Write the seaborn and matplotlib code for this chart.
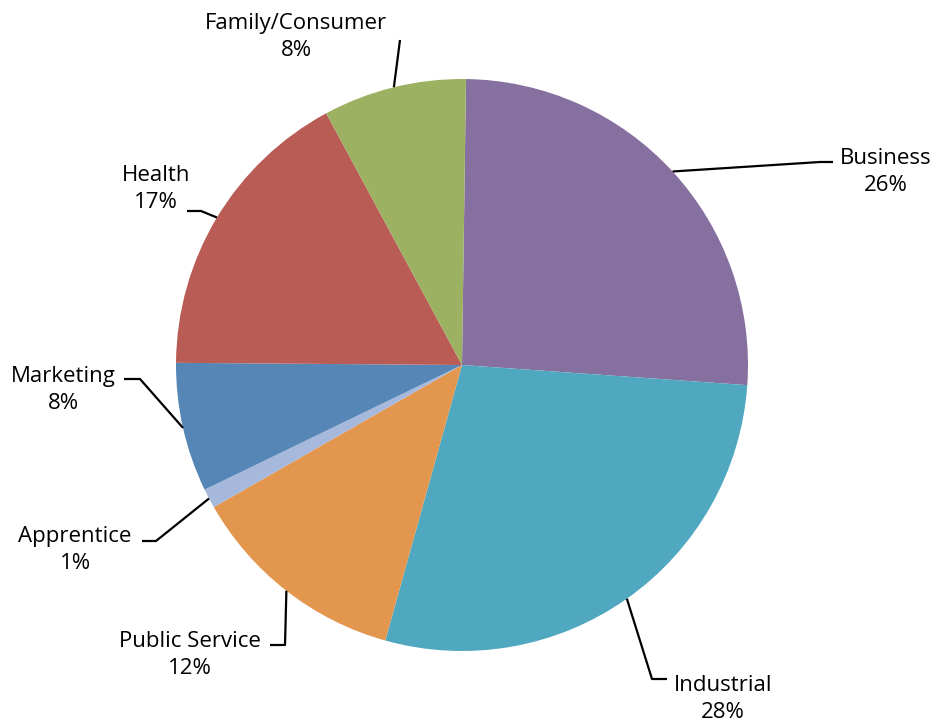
import numpy as np
import seaborn as sns
import matplotlib
matplotlib.use("Agg")
import matplotlib.pyplot as plt

# slice data (clockwise from the top)
categories = ["Business", "Industrial", "Public Service", "Apprentice",
              "Marketing", "Health", "Family/Consumer"]
shares = [25.9, 28.2, 12.4, 1.1, 7.3, 17.0, 8.1]
pct_labels = ["26%", "28%", "12%", "1%", "8%", "17%", "8%"]
slice_colors = ["#8670A0", "#4FA8BF", "#E3964E", "#A6B9DC",
                "#5586B6", "#B95C55", "#9CB162"]

sns.set_theme(style="white")
plt.rcParams['font.family'] = ['Open Sans', 'DejaVu Sans']

W, H = 934, 725
fig = plt.figure(figsize=(W / 100, H / 100), dpi=100)
ax = fig.add_axes([0, 0, 1, 1])

cx, cy, r = 462, H - 365, 286
wedges, _ = ax.pie(shares, colors=sns.color_palette(slice_colors),
                   startangle=89.2, counterclock=False, radius=r,
                   center=(cx, cy), frame=True,
                   wedgeprops=dict(linewidth=0))
ax.set_xlim(0, W)
ax.set_ylim(0, H)
ax.set_aspect('equal')
ax.axis('off')

# leader line knee / end and label centre, in pixels from top-left
layout = {
    "Business":        ((820, 162), (833, 162), (886, 172)),
    "Industrial":      ((652, 679), (667, 679), (723, 699)),
    "Public Service":  ((285, 645), (270, 645), (190, 655)),
    "Apprentice":      ((156, 541), (142, 541), (75, 550)),
    "Marketing":       ((140, 379), (124, 379), (63, 390)),
    "Health":          ((201, 211), (187, 211), (156, 189)),
    "Family/Consumer": ((400, 40), (400, 40), (296, 37)),
}

for w, name, pct in zip(wedges, categories, pct_labels):
    mid = np.deg2rad((w.theta1 + w.theta2) / 2)
    x0, y0 = cx + r * np.cos(mid), cy + r * np.sin(mid)
    knee, end, txt = layout[name]
    xs = [x0, knee[0], end[0]]
    ys = [y0, H - knee[1], H - end[1]]
    ax.plot(xs, ys, color='black', lw=1.6, solid_capstyle='butt')
    ax.text(txt[0], H - txt[1], f"{name}\n{pct}", ha='center', va='center',
            multialignment='center', fontsize=16, color='black',
            linespacing=1.4)

fig.savefig("out.png", dpi=100)
